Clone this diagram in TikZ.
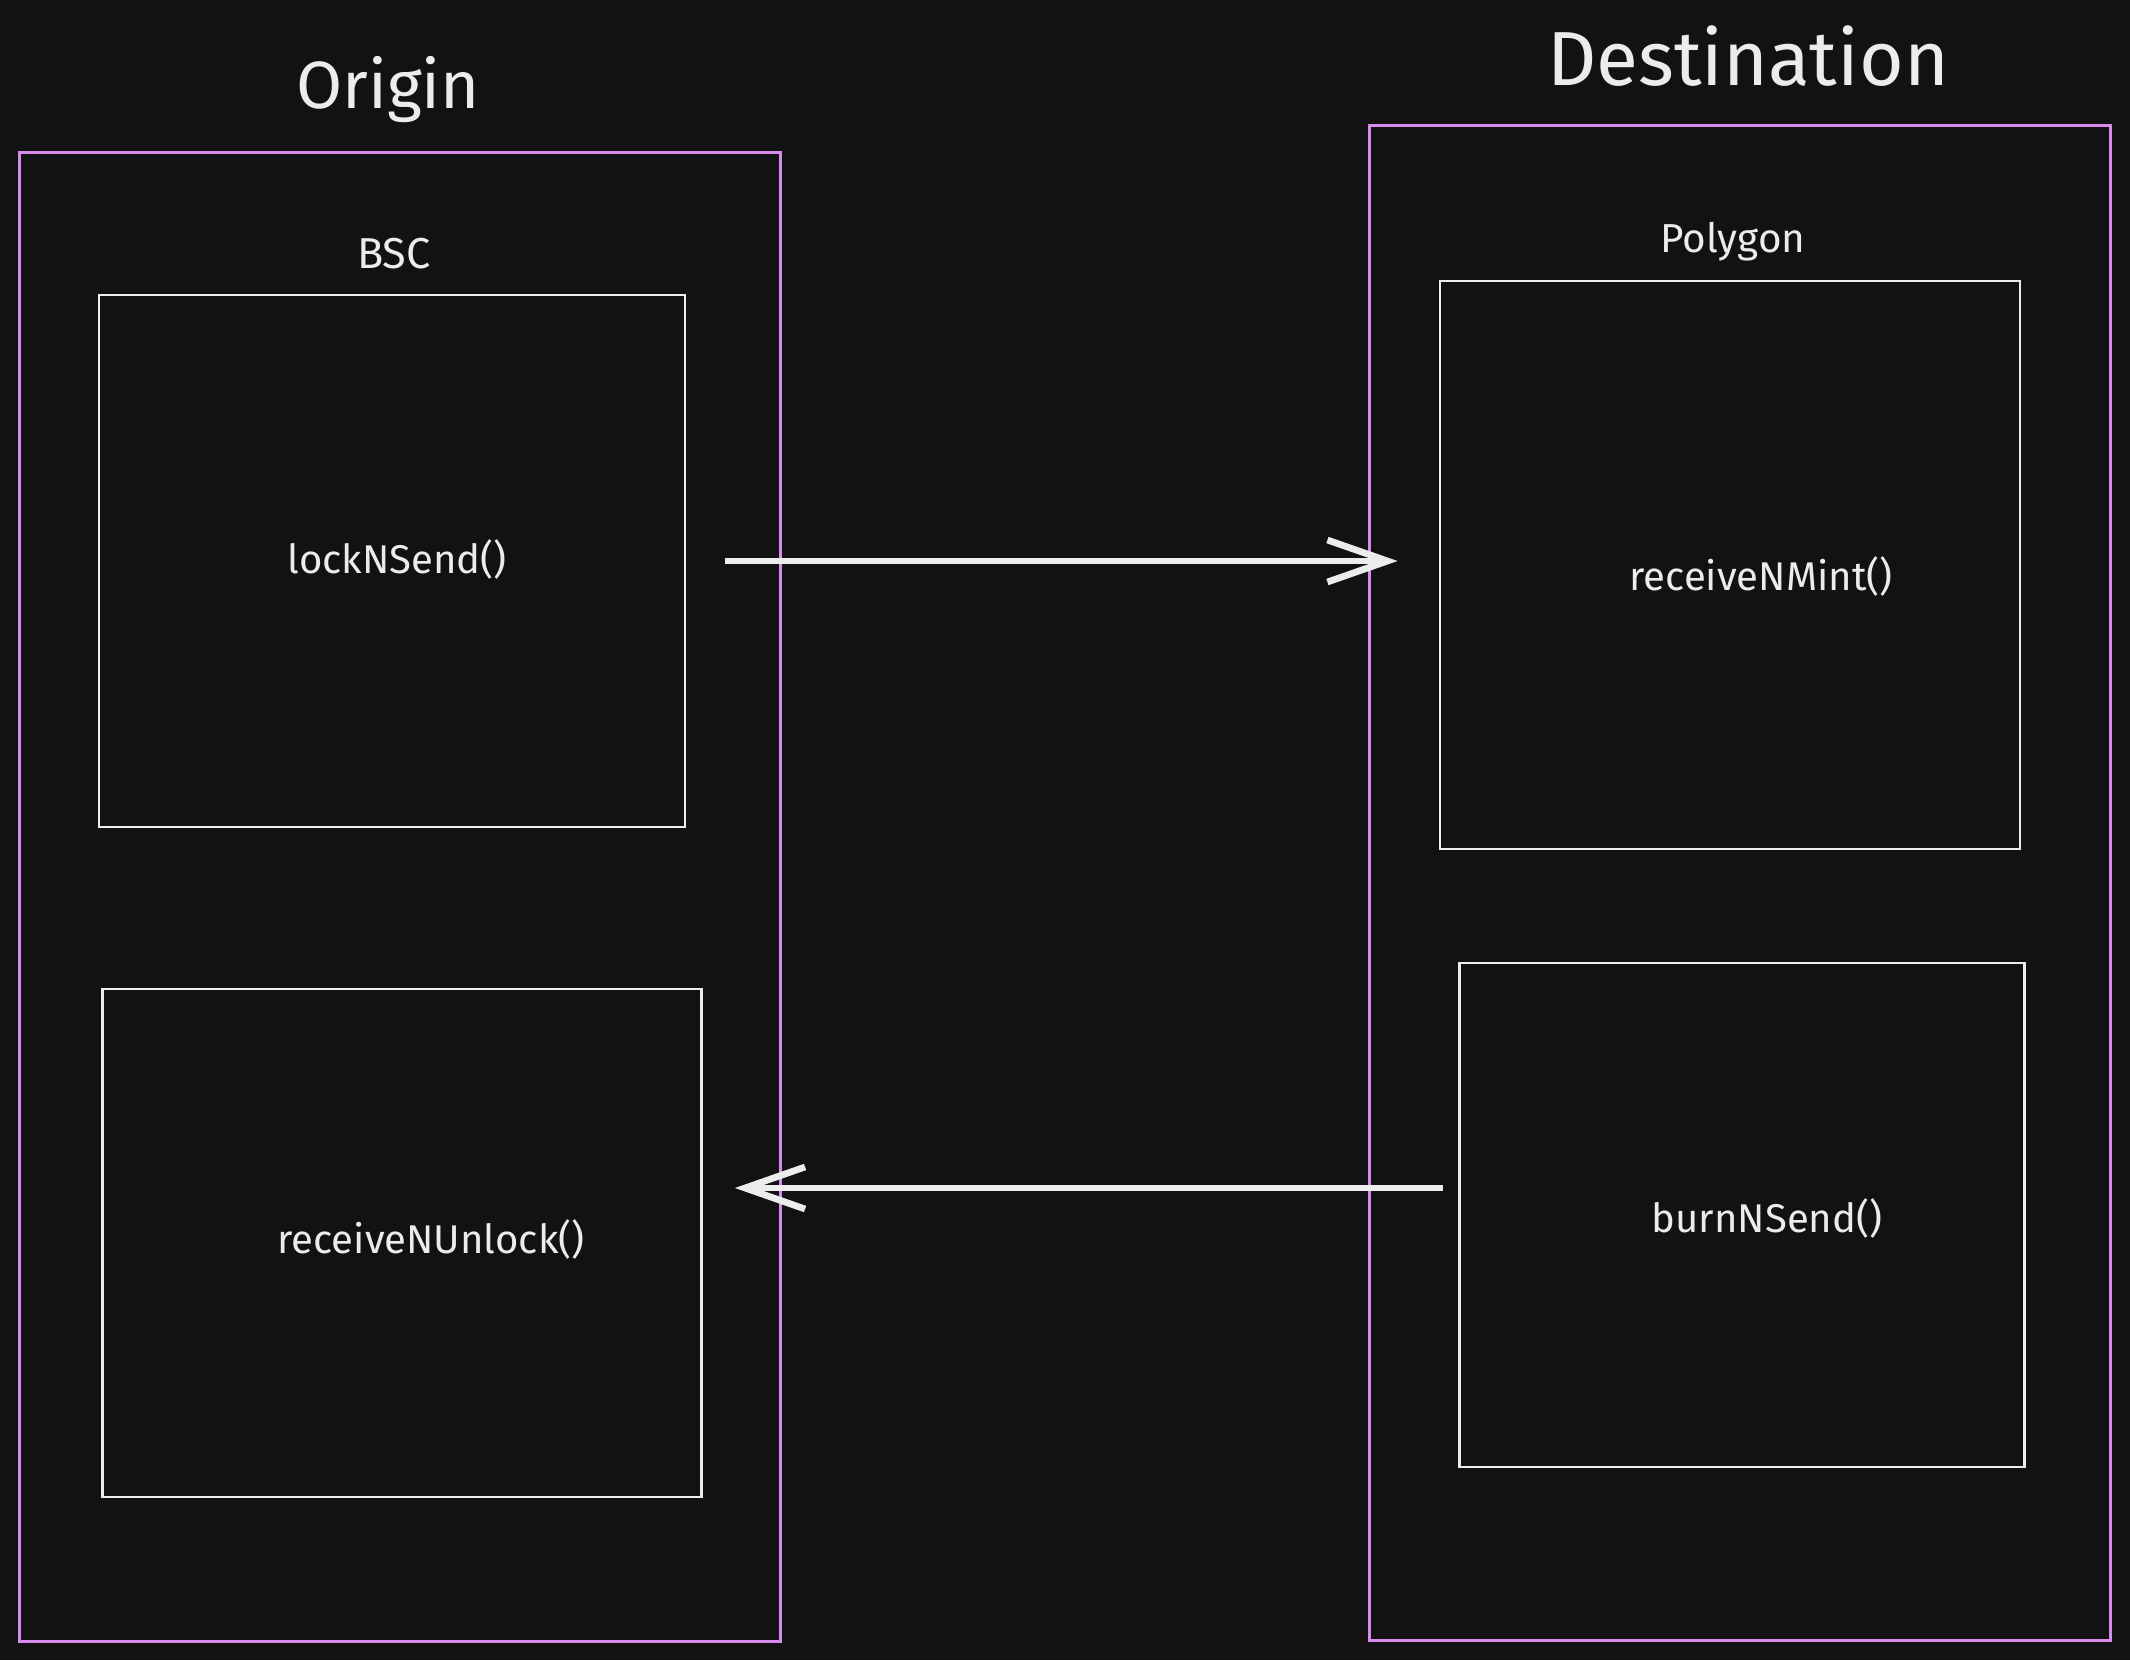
\documentclass[tikz,border=0pt]{standalone}
\usepackage{fontspec}
\setmainfont{Fira Sans}
\usetikzlibrary{arrows.meta}

\definecolor{canvas}{RGB}{18,18,18}
\definecolor{ink}{RGB}{236,236,236}
\definecolor{chainline}{RGB}{215,140,235}

\begin{document}
\begin{tikzpicture}[x=0.01cm, y=-0.01cm,
    chain/.style={draw=chainline, line width=0.9pt, inner sep=0pt},
    contract/.style={draw=ink, line width=0.7pt, inner sep=0pt},
    fn/.style={text=ink, anchor=base, font=\fontsize{11.4}{13}\selectfont},
    title/.style={text=ink, anchor=base, font=\fontsize{19}{22}\selectfont},
    net/.style={text=ink, anchor=base, font=\fontsize{11.5}{13}\selectfont},
    flow/.style={draw=ink, line width=1.9pt, -{Straight Barb[length=6mm, width=4.2mm]}}]
  \fill[canvas] (0,0) rectangle (2130,1660);

  % chains
  \node[chain, minimum width=7.61cm, minimum height=14.88cm] (origin) at (400,897) {};
  \node[chain, minimum width=7.41cm, minimum height=15.14cm] (destination) at (1740,883) {};
  \node[title] (origintitle) at (388,108) {Origin};
  \node[title, font=\fontsize{21.8}{24}\selectfont] (desttitle) at (1748,85) {Destination};
  \node[net, font=\fontsize{12.3}{14}\selectfont] (bsc) at (394,268) {BSC};
  \node[net] (polygon) at (1733,252) {Polygon};

  % contracts
  \node[contract, minimum width=5.86cm, minimum height=5.32cm] (lock) at (392,561) {};
  \node[contract, minimum width=5.99cm, minimum height=5.08cm] (unlock) at (402,1243) {};
  \node[contract, minimum width=5.80cm, minimum height=5.68cm] (mint) at (1730,565) {};
  \node[contract, minimum width=5.65cm, minimum height=5.04cm] (burn) at (1742,1215) {};
  \node[fn] (lockfn) at (397,573) {lockNSend()};
  \node[fn] (unlockfn) at (431,1253) {receiveNUnlock()};
  \node[fn] (mintfn) at (1761,590) {receiveNMint()};
  \node[fn] (burnfn) at (1767,1232) {burnNSend()};

  % messages
  \draw[flow, shorten <=0.39cm, shorten >=0.41cm] (lock.east) -- (lock.east -| mint.west);
  \draw[flow, shorten <=0.15cm, shorten >=0.32cm] ([yshift=2.7mm]burn.west) -- ([yshift=2.7mm]burn.west -| unlock.east);
\end{tikzpicture}
\end{document}
